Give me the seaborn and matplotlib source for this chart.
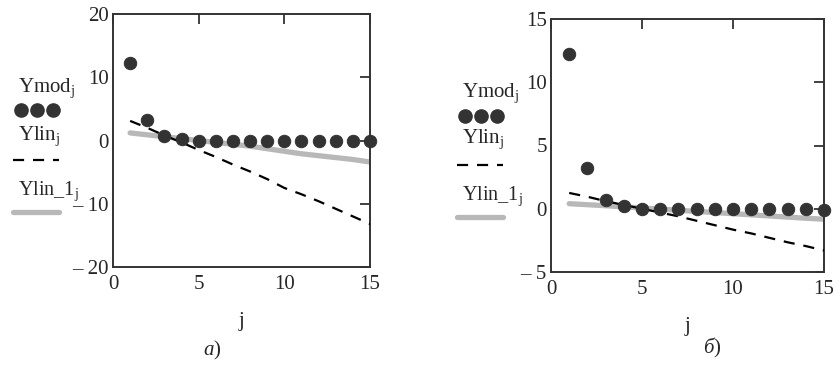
import numpy as np
import pandas as pd
import matplotlib
matplotlib.use("Agg")
import matplotlib.pyplot as plt
from matplotlib.lines import Line2D
import seaborn as sns

# Datos
j = list(range(1, 16))
ymod = [12.2, 3.2, 0.7, 0.2, 0.0, 0.0, 0.0, 0.0, 0.0, 0.0, 0.0, 0.0, 0.0, 0.0, -0.1]

ylin_a = [3.1, 2.0, 0.8, -0.3, -1.5, -2.6, -3.8, -4.9, -6.1, -7.5, -8.5, -9.6, -10.8, -12.0, -13.2]
ylin1_a = [1.2, 0.9, 0.6, 0.3, 0.0, -0.3, -0.6, -0.9, -1.3, -1.7, -2.1, -2.4, -2.7, -3.0, -3.4]

ylin_b = [1.25, 0.95, 0.6, 0.3, 0.0, -0.3, -0.6, -0.95, -1.3, -1.65, -1.95, -2.3, -2.65, -2.95, -3.3]
ylin1_b = [0.4, 0.32, 0.24, 0.15, 0.06, -0.03, -0.12, -0.21, -0.3, -0.39, -0.48, -0.57, -0.66, -0.75, -0.83]

xticks = [0, 5, 10, 15]
yticks_a = [-20, -10, 0, 10, 20]
yticklabels_a = ["\u2013 20", "\u2013 10", "0", "10", "20"]
yticks_b = [-5, 0, 5, 10, 15]
yticklabels_b = ["\u2013 5", "0", "5", "10", "15"]

sns.set_style("white")
plt.rcParams['font.family'] = ['Liberation Serif', 'DejaVu Serif']
plt.rcParams['mathtext.fontset'] = 'custom'
plt.rcParams['mathtext.rm'] = 'Liberation Serif'
plt.rcParams['mathtext.it'] = 'Liberation Serif:italic'

W, H = 840, 365
fig = plt.figure(figsize=(8.4, 3.65), dpi=100)

DOT = '#333333'
GRAY = '#b8b8b8'
FRAME = '#333333'


def px(x, y):
    return x / W, 1 - y / H


def panel(rect, ylin, ylin1, yticks, yticklabels, ylim):
    ax = fig.add_axes(rect)
    df = pd.DataFrame({'j': j, 'Ymod': ymod, 'Ylin': ylin, 'Ylin_1': ylin1})
    sns.lineplot(data=df, x='j', y='Ylin_1', ax=ax, color=GRAY, lw=3.8, zorder=2)
    sns.lineplot(data=df, x='j', y='Ylin', ax=ax, color='black', lw=1.6,
                 dashes=False, zorder=3).lines[-1].set_dashes([5, 4])
    sns.scatterplot(data=df, x='j', y='Ymod', ax=ax, color=DOT, s=80,
                    edgecolor=DOT, zorder=4, clip_on=False)
    ax.set_xlim(0, 15)
    ax.set_ylim(*ylim)
    ax.set_xticks(xticks)
    ax.set_yticks(yticks)
    ax.set_yticklabels(yticklabels)
    ax.set_xlabel('j', fontsize=15, labelpad=13)
    ax.set_ylabel('')
    ax.tick_params(direction='in', length=7, width=1.3, color=FRAME,
                   labelsize=15, top=True, right=True, pad=3)
    ax.tick_params(axis='x', pad=6)
    for s in ax.spines.values():
        s.set_color(FRAME)
        s.set_linewidth(1.4)
    return ax


panel([113 / W, 1 - 267 / H, 257 / W, 253 / H], ylin_a, ylin1_a,
      yticks_a, yticklabels_a, (-20, 20))
panel([551 / W, 1 - 272 / H, 273 / W, 253 / H], ylin_b, ylin1_b,
      yticks_b, yticklabels_b, (-5, 15))


def legend(x0, ys):
    # ys: posiciones verticales de los textos y símbolos
    fig.text(*px(x0 + 5, ys[0]), r'$\mathregular{Ymod_j}$', fontsize=15, va='center')
    for k in range(3):
        fig.add_artist(Line2D([px(x0 + 8 + 16 * k, 0)[0]], [px(0, ys[1])[1]],
                              marker='o', ms=9.5, color=DOT, ls='none'))
    fig.text(*px(x0 + 5, ys[2]), r'$\mathregular{Ylin_j}$', fontsize=15, va='center')
    fig.add_artist(Line2D([px(x0, 0)[0], px(x0 + 46, 0)[0]], [px(0, ys[3])[1]] * 2,
                          color='black', lw=1.6, dashes=[5, 4]))
    fig.text(*px(x0 + 5, ys[4]), r'$\mathregular{Ylin\_1_j}$', fontsize=14.5, va='center')
    fig.add_artist(Line2D([px(x0, 0)[0], px(x0 + 46, 0)[0]], [px(0, ys[5])[1]] * 2,
                          color=GRAY, lw=3.8))


legend(13, [88, 110, 136, 160, 191, 212])
legend(457, [93, 116, 139, 165, 196, 217])

fig.text(*px(212, 350), r'$a$)', fontsize=15, ha='center', va='center')
fig.text(*px(712, 348), r'$\mathit{б}$)', fontsize=15, ha='center', va='center')

plt.savefig('out.png', dpi=100)
